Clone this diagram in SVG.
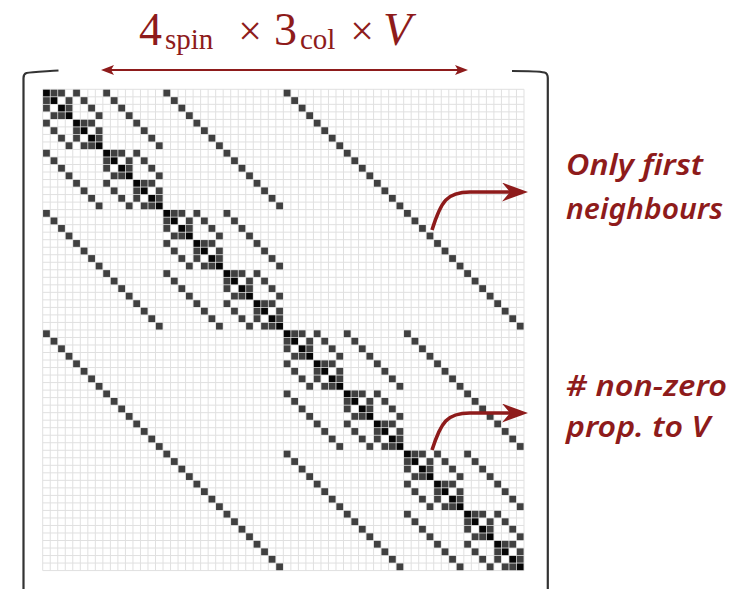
<svg xmlns="http://www.w3.org/2000/svg" width="747" height="589" viewBox="0 0 747 589">
<style>
.tm{font-family:"Liberation Serif","DejaVu Serif",serif;fill:#8e1b1b}
.hand{font-family:"Noto Sans","DejaVu Sans",sans-serif;font-style:italic;font-weight:600;font-size:28px;fill:#8e1b1b}
.k{fill:#050505}
.g{fill:#404040}
.grid{fill:none;stroke:#e0e0e0;stroke-width:1}
.br{fill:none;stroke:#333;stroke-width:2.2}
.arr{fill:none;stroke:#8e1b1b;stroke-linecap:butt}
</style>
<defs>
<marker id="hs" markerUnits="userSpaceOnUse" viewBox="0 0 13 10" markerWidth="13" markerHeight="10" refX="3" refY="5" orient="auto-start-reverse"><path d="M0,0L13,5L0,10L3,5Z" fill="#8e1b1b"/></marker>
<marker id="hb" markerUnits="userSpaceOnUse" viewBox="0 0 26 19" markerWidth="26" markerHeight="19" refX="8" refY="9.5" orient="auto"><path d="M0,0L26,9.5L0,19L8,9.5Z" fill="#8e1b1b"/></marker>
<path id="h1" class="grid" vector-effect="non-scaling-stroke" d="M0,0H64"/>
<path id="v1" class="grid" vector-effect="non-scaling-stroke" d="M0,0V64"/>
<g id="h2"><use href="#h1"/><use href="#h1" y="1"/></g>
<g id="h4"><use href="#h2"/><use href="#h2" y="2"/></g>
<g id="h8"><use href="#h4"/><use href="#h4" y="4"/></g>
<g id="h16"><use href="#h8"/><use href="#h8" y="8"/></g>
<g id="h32"><use href="#h16"/><use href="#h16" y="16"/></g>
<g id="h64"><use href="#h32"/><use href="#h32" y="32"/></g>
<g id="v2"><use href="#v1"/><use href="#v1" x="1"/></g>
<g id="v4"><use href="#v2"/><use href="#v2" x="2"/></g>
<g id="v8"><use href="#v4"/><use href="#v4" x="4"/></g>
<g id="v16"><use href="#v8"/><use href="#v8" x="8"/></g>
<g id="v32"><use href="#v16"/><use href="#v16" x="16"/></g>
<g id="v64"><use href="#v32"/><use href="#v32" x="32"/></g>
<rect id="d0" class="k" x=".05" y=".05" width=".9" height=".9"/>
<rect id="g0" class="g" x=".05" y=".05" width=".9" height=".9"/>
<g id="i1"><use href="#g0"/><use href="#g0" x="1" y="1"/></g>
<g id="i2"><use href="#i1"/><use href="#i1" x="2" y="2"/></g>
<g id="i3"><use href="#i2"/><use href="#i2" x="4" y="4"/></g>
<g id="i4"><use href="#i3"/><use href="#i3" x="8" y="8"/></g>
<g id="i5"><use href="#i4"/><use href="#i4" x="16" y="16"/></g>
<g id="b1"><use href="#d0"/><use href="#d0" x="1" y="1"/><use href="#g0" x="1"/><use href="#g0" y="1"/></g>
<g id="b2"><use href="#b1"/><use href="#b1" x="2" y="2"/><use href="#i1" x="2"/><use href="#i1" y="2"/></g>
<g id="b3"><use href="#b2"/><use href="#b2" x="4" y="4"/><use href="#i2" x="4"/><use href="#i2" y="4"/></g>
<g id="b4"><use href="#b3"/><use href="#b3" x="8" y="8"/><use href="#i3" x="8"/><use href="#i3" y="8"/></g>
<g id="b5"><use href="#b4"/><use href="#b4" x="16" y="16"/><use href="#i4" x="16"/><use href="#i4" y="16"/></g>
<g id="b6"><use href="#b5"/><use href="#b5" x="32" y="32"/><use href="#i5" x="32"/><use href="#i5" y="32"/></g>
</defs>
<rect width="747" height="589" fill="#fff"/>

<g id="title">
<text class="tm" x="139" y="44.5" font-size="46">4</text>
<text class="tm" x="165" y="48.5" font-size="29">spin</text>
<text class="tm" x="250" y="45" font-size="42" text-anchor="middle">×</text>
<text class="tm" x="274" y="44.5" font-size="46">3</text>
<text class="tm" x="300" y="48.5" font-size="29">col</text>
<text class="tm" x="362" y="45" font-size="42" text-anchor="middle">×</text>
<text class="tm" x="383" y="44.5" font-size="47" font-style="italic">V</text>
</g>

<g id="brackets">
<path class="br" d="M58.5,70.5 C44,71.5 31,72 26.5,73 Q23.5,74 23.5,78 V592"/>
<path class="br" d="M512,71 C528,71 540,71.5 544.5,72.5 Q547.8,73.5 547.8,78 V592"/>
</g>

<g id="matrix" transform="translate(42.7,89.3) scale(7.52)">
<use href="#h64"/><use href="#h1" y="64"/>
<use href="#v64"/><use href="#v1" x="64"/>
<use href="#b6"/>
</g>

<g id="connectors">
<path class="arr" stroke-width="1.8" d="M111,70 H458" marker-start="url(#hs)" marker-end="url(#hs)"/>
<path class="arr" stroke-width="3.6" d="M432,230 C441,201 447,192 470,192 H510" marker-end="url(#hb)"/>
<path class="arr" stroke-width="3.6" d="M432,450 C441,422 447,413 470,413 H510" marker-end="url(#hb)"/>
</g>

<g id="note-neighbours">
<text class="hand" x="566" y="175" textLength="137" lengthAdjust="spacingAndGlyphs">Only first</text>
<text class="hand" x="566" y="219" textLength="157" lengthAdjust="spacingAndGlyphs">neighbours</text>
</g>
<g id="note-nonzero">
<text class="hand" x="566" y="396" textLength="161" lengthAdjust="spacingAndGlyphs"># non-zero</text>
<text class="hand" x="566" y="437" textLength="144" lengthAdjust="spacingAndGlyphs">prop. to V</text>
</g>
</svg>
